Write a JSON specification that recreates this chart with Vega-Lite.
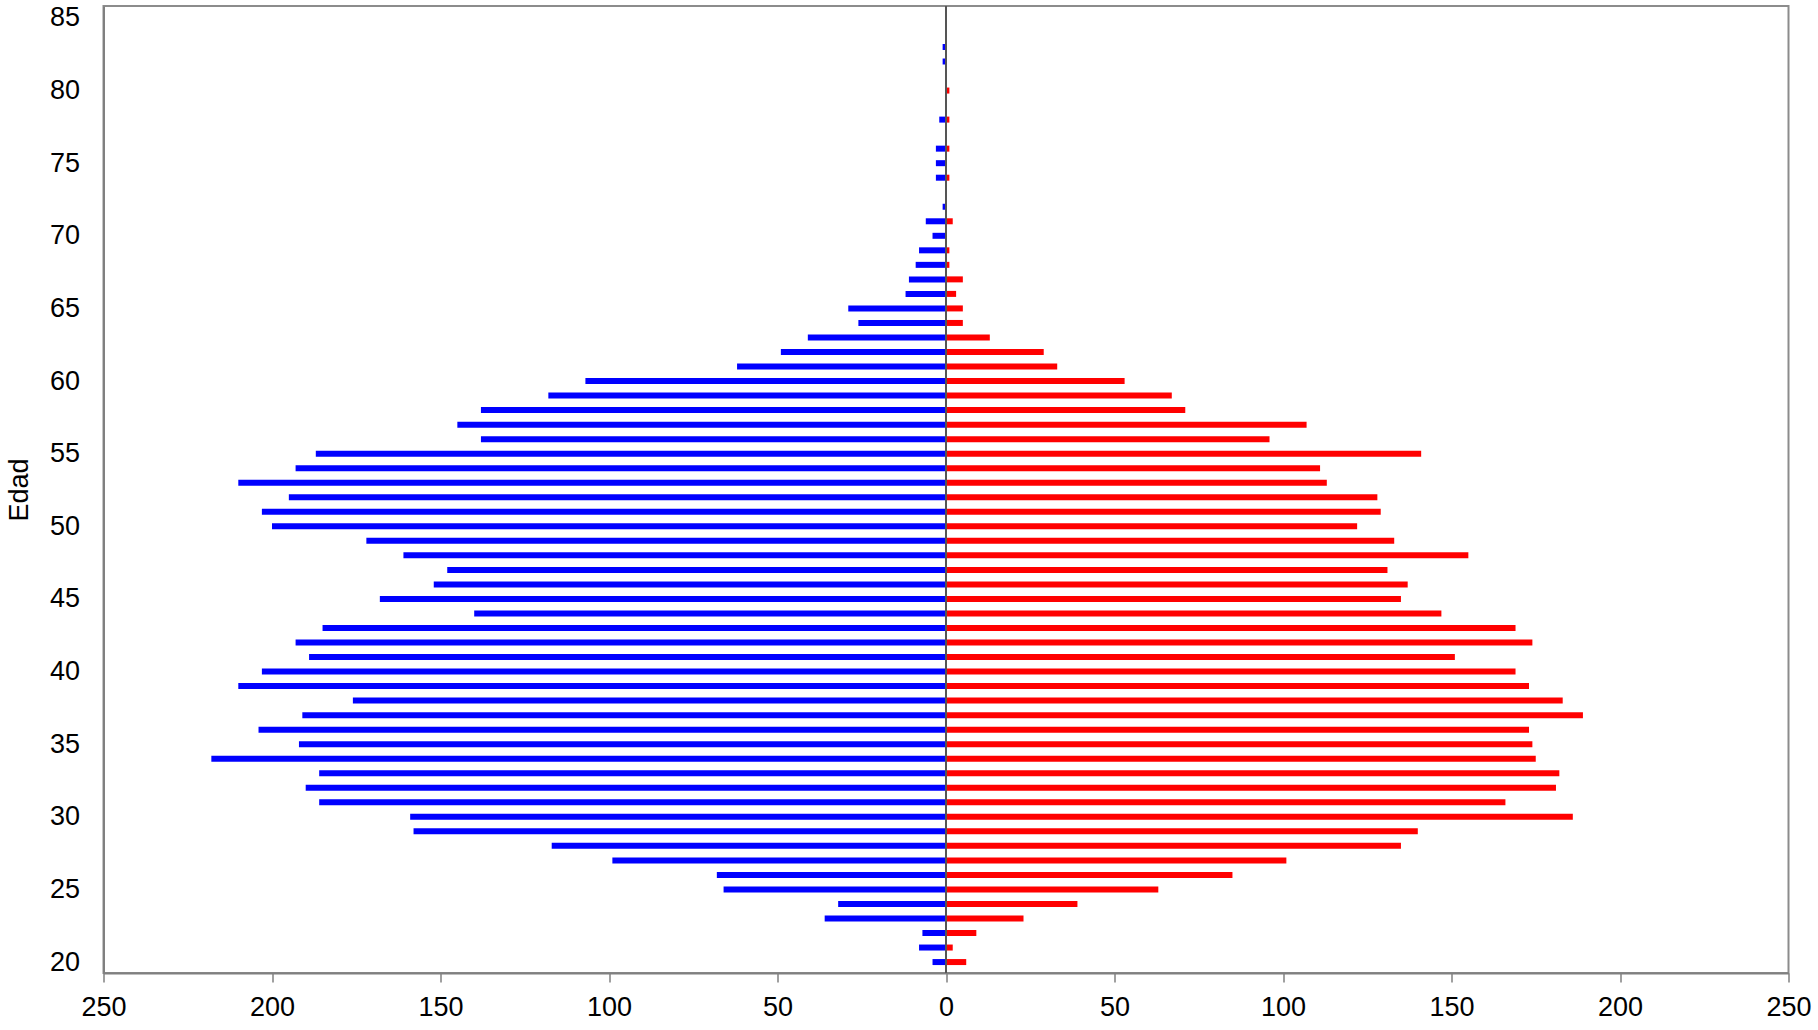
{
  "$schema": "https://vega.github.io/schema/vega-lite/v6.json",
  "autosize": {"type": "none"},
  "padding": {"left": 103.5, "top": 6, "right": 29.5, "bottom": 57},
  "width": 1685,
  "height": 967,
  "background": "white",
  "config": {
    "font": "Liberation Sans",
    "view": {"stroke": "#8c8c8c", "strokeWidth": 2},
    "axis": {
      "grid": false,
      "domainColor": "#808080",
      "domainWidth": 2,
      "tickColor": "#808080",
      "tickWidth": 1.5,
      "labelColor": "black",
      "labelFontSize": 27,
      "labelFont": "Liberation Sans",
      "titleFont": "Liberation Sans",
      "titleFontSize": 27,
      "titleFontWeight": "normal",
      "titleColor": "black"
    }
  },
  "data": {
    "values": [
      {"edad": 83, "sexo": "Hombres", "valor": -1},
      {"edad": 82, "sexo": "Hombres", "valor": -1},
      {"edad": 80, "sexo": "Mujeres", "valor": 1},
      {"edad": 78, "sexo": "Hombres", "valor": -2},
      {"edad": 78, "sexo": "Mujeres", "valor": 1},
      {"edad": 76, "sexo": "Hombres", "valor": -3},
      {"edad": 76, "sexo": "Mujeres", "valor": 1},
      {"edad": 75, "sexo": "Hombres", "valor": -3},
      {"edad": 74, "sexo": "Hombres", "valor": -3},
      {"edad": 74, "sexo": "Mujeres", "valor": 1},
      {"edad": 72, "sexo": "Hombres", "valor": -1},
      {"edad": 71, "sexo": "Hombres", "valor": -6},
      {"edad": 71, "sexo": "Mujeres", "valor": 2},
      {"edad": 70, "sexo": "Hombres", "valor": -4},
      {"edad": 69, "sexo": "Hombres", "valor": -8},
      {"edad": 69, "sexo": "Mujeres", "valor": 1},
      {"edad": 68, "sexo": "Hombres", "valor": -9},
      {"edad": 68, "sexo": "Mujeres", "valor": 1},
      {"edad": 67, "sexo": "Hombres", "valor": -11},
      {"edad": 67, "sexo": "Mujeres", "valor": 5},
      {"edad": 66, "sexo": "Hombres", "valor": -12},
      {"edad": 66, "sexo": "Mujeres", "valor": 3},
      {"edad": 65, "sexo": "Hombres", "valor": -29},
      {"edad": 65, "sexo": "Mujeres", "valor": 5},
      {"edad": 64, "sexo": "Hombres", "valor": -26},
      {"edad": 64, "sexo": "Mujeres", "valor": 5},
      {"edad": 63, "sexo": "Hombres", "valor": -41},
      {"edad": 63, "sexo": "Mujeres", "valor": 13},
      {"edad": 62, "sexo": "Hombres", "valor": -49},
      {"edad": 62, "sexo": "Mujeres", "valor": 29},
      {"edad": 61, "sexo": "Hombres", "valor": -62},
      {"edad": 61, "sexo": "Mujeres", "valor": 33},
      {"edad": 60, "sexo": "Hombres", "valor": -107},
      {"edad": 60, "sexo": "Mujeres", "valor": 53},
      {"edad": 59, "sexo": "Hombres", "valor": -118},
      {"edad": 59, "sexo": "Mujeres", "valor": 67},
      {"edad": 58, "sexo": "Hombres", "valor": -138},
      {"edad": 58, "sexo": "Mujeres", "valor": 71},
      {"edad": 57, "sexo": "Hombres", "valor": -145},
      {"edad": 57, "sexo": "Mujeres", "valor": 107},
      {"edad": 56, "sexo": "Hombres", "valor": -138},
      {"edad": 56, "sexo": "Mujeres", "valor": 96},
      {"edad": 55, "sexo": "Hombres", "valor": -187},
      {"edad": 55, "sexo": "Mujeres", "valor": 141},
      {"edad": 54, "sexo": "Hombres", "valor": -193},
      {"edad": 54, "sexo": "Mujeres", "valor": 111},
      {"edad": 53, "sexo": "Hombres", "valor": -210},
      {"edad": 53, "sexo": "Mujeres", "valor": 113},
      {"edad": 52, "sexo": "Hombres", "valor": -195},
      {"edad": 52, "sexo": "Mujeres", "valor": 128},
      {"edad": 51, "sexo": "Hombres", "valor": -203},
      {"edad": 51, "sexo": "Mujeres", "valor": 129},
      {"edad": 50, "sexo": "Hombres", "valor": -200},
      {"edad": 50, "sexo": "Mujeres", "valor": 122},
      {"edad": 49, "sexo": "Hombres", "valor": -172},
      {"edad": 49, "sexo": "Mujeres", "valor": 133},
      {"edad": 48, "sexo": "Hombres", "valor": -161},
      {"edad": 48, "sexo": "Mujeres", "valor": 155},
      {"edad": 47, "sexo": "Hombres", "valor": -148},
      {"edad": 47, "sexo": "Mujeres", "valor": 131},
      {"edad": 46, "sexo": "Hombres", "valor": -152},
      {"edad": 46, "sexo": "Mujeres", "valor": 137},
      {"edad": 45, "sexo": "Hombres", "valor": -168},
      {"edad": 45, "sexo": "Mujeres", "valor": 135},
      {"edad": 44, "sexo": "Hombres", "valor": -140},
      {"edad": 44, "sexo": "Mujeres", "valor": 147},
      {"edad": 43, "sexo": "Hombres", "valor": -185},
      {"edad": 43, "sexo": "Mujeres", "valor": 169},
      {"edad": 42, "sexo": "Hombres", "valor": -193},
      {"edad": 42, "sexo": "Mujeres", "valor": 174},
      {"edad": 41, "sexo": "Hombres", "valor": -189},
      {"edad": 41, "sexo": "Mujeres", "valor": 151},
      {"edad": 40, "sexo": "Hombres", "valor": -203},
      {"edad": 40, "sexo": "Mujeres", "valor": 169},
      {"edad": 39, "sexo": "Hombres", "valor": -210},
      {"edad": 39, "sexo": "Mujeres", "valor": 173},
      {"edad": 38, "sexo": "Hombres", "valor": -176},
      {"edad": 38, "sexo": "Mujeres", "valor": 183},
      {"edad": 37, "sexo": "Hombres", "valor": -191},
      {"edad": 37, "sexo": "Mujeres", "valor": 189},
      {"edad": 36, "sexo": "Hombres", "valor": -204},
      {"edad": 36, "sexo": "Mujeres", "valor": 173},
      {"edad": 35, "sexo": "Hombres", "valor": -192},
      {"edad": 35, "sexo": "Mujeres", "valor": 174},
      {"edad": 34, "sexo": "Hombres", "valor": -218},
      {"edad": 34, "sexo": "Mujeres", "valor": 175},
      {"edad": 33, "sexo": "Hombres", "valor": -186},
      {"edad": 33, "sexo": "Mujeres", "valor": 182},
      {"edad": 32, "sexo": "Hombres", "valor": -190},
      {"edad": 32, "sexo": "Mujeres", "valor": 181},
      {"edad": 31, "sexo": "Hombres", "valor": -186},
      {"edad": 31, "sexo": "Mujeres", "valor": 166},
      {"edad": 30, "sexo": "Hombres", "valor": -159},
      {"edad": 30, "sexo": "Mujeres", "valor": 186},
      {"edad": 29, "sexo": "Hombres", "valor": -158},
      {"edad": 29, "sexo": "Mujeres", "valor": 140},
      {"edad": 28, "sexo": "Hombres", "valor": -117},
      {"edad": 28, "sexo": "Mujeres", "valor": 135},
      {"edad": 27, "sexo": "Hombres", "valor": -99},
      {"edad": 27, "sexo": "Mujeres", "valor": 101},
      {"edad": 26, "sexo": "Hombres", "valor": -68},
      {"edad": 26, "sexo": "Mujeres", "valor": 85},
      {"edad": 25, "sexo": "Hombres", "valor": -66},
      {"edad": 25, "sexo": "Mujeres", "valor": 63},
      {"edad": 24, "sexo": "Hombres", "valor": -32},
      {"edad": 24, "sexo": "Mujeres", "valor": 39},
      {"edad": 23, "sexo": "Hombres", "valor": -36},
      {"edad": 23, "sexo": "Mujeres", "valor": 23},
      {"edad": 22, "sexo": "Hombres", "valor": -7},
      {"edad": 22, "sexo": "Mujeres", "valor": 9},
      {"edad": 21, "sexo": "Hombres", "valor": -8},
      {"edad": 21, "sexo": "Mujeres", "valor": 2},
      {"edad": 20, "sexo": "Hombres", "valor": -4},
      {"edad": 20, "sexo": "Mujeres", "valor": 6}
    ]
  },
  "layer": [
    {
      "mark": {"type": "bar", "orient": "horizontal", "size": 6},
      "encoding": {
        "x": {
          "field": "valor",
          "type": "quantitative",
          "scale": {"domain": [-250, 250], "nice": false, "zero": true},
          "axis": {
            "title": null,
            "values": [-250, -200, -150, -100, -50, 0, 50, 100, 150, 200, 250],
            "labelExpr": "abs(datum.value)",
            "tickSize": 9,
            "labelPadding": 12,
            "labelFlush": false
          }
        },
        "y": {
          "field": "edad",
          "type": "quantitative",
          "scale": {"domain": [19.591, 85.477], "nice": false, "zero": false},
          "axis": {
            "title": "Edad",
            "values": [20, 25, 30, 35, 40, 45, 50, 55, 60, 65, 70, 75, 80, 85],
            "ticks": false,
            "labelPadding": 24,
            "titlePadding": 16,
            "labelFlush": false
          }
        },
        "color": {
          "field": "sexo",
          "type": "nominal",
          "scale": {"domain": ["Hombres", "Mujeres"], "range": ["#0000ff", "#ff0000"]},
          "legend": null
        }
      }
    },
    {
      "mark": {"type": "rule", "color": "#555555", "strokeWidth": 2},
      "encoding": {"x": {"datum": 0}}
    }
  ]
}
